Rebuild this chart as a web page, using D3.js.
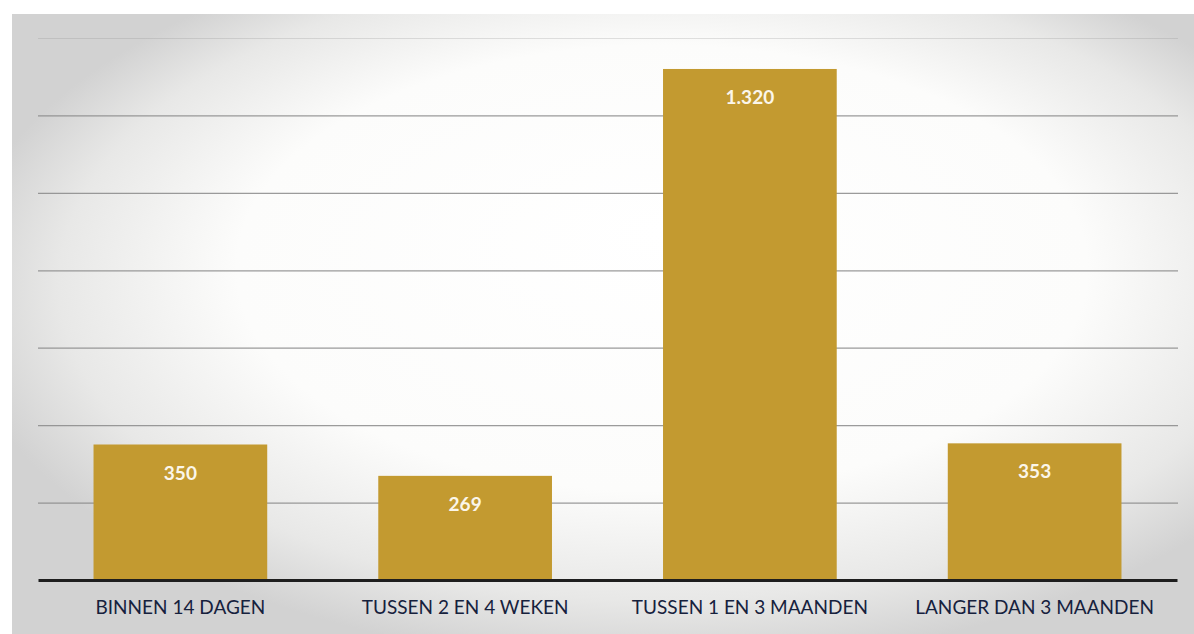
<!DOCTYPE html>
<html>
<head>
<meta charset="utf-8">
<script src="https://cdn.jsdelivr.net/npm/d3@7"></script>
<style>
  html, body { margin: 0; padding: 0; background: #ffffff; }
  svg { display: block; }
</style>
</head>
<body>
<svg id="chart" width="1194" height="634"></svg>
<script>
// Doorlooptijden, aantal per termijn
const categories = ["BINNEN 14 DAGEN", "TUSSEN 2 EN 4 WEKEN", "TUSSEN 1 EN 3 MAANDEN", "LANGER DAN 3 MAANDEN"];
const values = [350, 269, 1320, 353];
const valueLabels = ["350", "269", "1.320", "353"];
const gridTicks = [200, 400, 600, 800, 1000, 1200, 1400];

const W = 1194, H = 634;
const svg = d3.select("#chart");
const defs = svg.append("defs");

// soft grey vignette behind the plot
const bg = defs.append("radialGradient")
  .attr("id", "panelBg")
  .attr("cx", "55%").attr("cy", "45%").attr("r", "60%")
  .attr("fx", "55%").attr("fy", "35%");
bg.append("stop").attr("offset", "0%").attr("stop-color", "#ffffff");
bg.append("stop").attr("offset", "60%").attr("stop-color", "#fcfcfb");
bg.append("stop").attr("offset", "85%").attr("stop-color", "#e8e8e7");
bg.append("stop").attr("offset", "100%").attr("stop-color", "#d2d2d2");

svg.append("rect")
  .attr("x", 12).attr("y", 14)
  .attr("width", W - 12).attr("height", H - 14)
  .attr("fill", "url(#panelBg)");

const x = d3.scaleBand()
  .domain(categories)
  .range([38, 1177])
  .paddingInner(0.39)
  .paddingOuter(0.195);

const y = d3.scaleLinear()
  .domain([0, 1400])
  .range([580, 38]);

// horizontal gridlines
const grid = svg.append("g")
  .attr("transform", "translate(38,0)")
  .call(d3.axisLeft(y).tickValues(gridTicks).tickSize(-(1178 - 38)).tickFormat(""));
grid.select(".domain").remove();
grid.selectAll(".tick line")
  .attr("stroke", "#8a8a8a")
  .attr("stroke-width", 1.2)
  .attr("stroke-opacity", 0.85);
grid.selectAll(".tick").filter(d => d === 1400).select("line")
  .attr("stroke-opacity", 0.25);

// bars
svg.append("g").selectAll("rect")
  .data(values)
  .join("rect")
  .attr("x", (d, i) => x(categories[i]))
  .attr("y", d => y(d))
  .attr("width", x.bandwidth())
  .attr("height", d => y(0) - y(d))
  .attr("fill", "#c39a30");

// value labels inside the bars
svg.append("g").selectAll("text")
  .data(values)
  .join("text")
  .attr("x", (d, i) => x(categories[i]) + x.bandwidth() / 2)
  .attr("y", d => y(d) + 35)
  .attr("text-anchor", "middle")
  .attr("font-family", "Lato, sans-serif")
  .attr("font-weight", 700)
  .attr("font-size", 19)
  .attr("fill", "#fbf6ea")
  .text((d, i) => valueLabels[i]);

// category axis
const xAxis = svg.append("g")
  .attr("transform", `translate(0,${y(0)})`)
  .call(d3.axisBottom(x).tickSize(0).tickPadding(21));
xAxis.select(".domain")
  .attr("stroke", "#1e1e1e")
  .attr("stroke-width", 3.2);
xAxis.selectAll(".tick text")
  .attr("font-family", "Lato, sans-serif")
  .attr("font-size", 19)
  .attr("fill", "#16213d");
</script>
</body>
</html>
